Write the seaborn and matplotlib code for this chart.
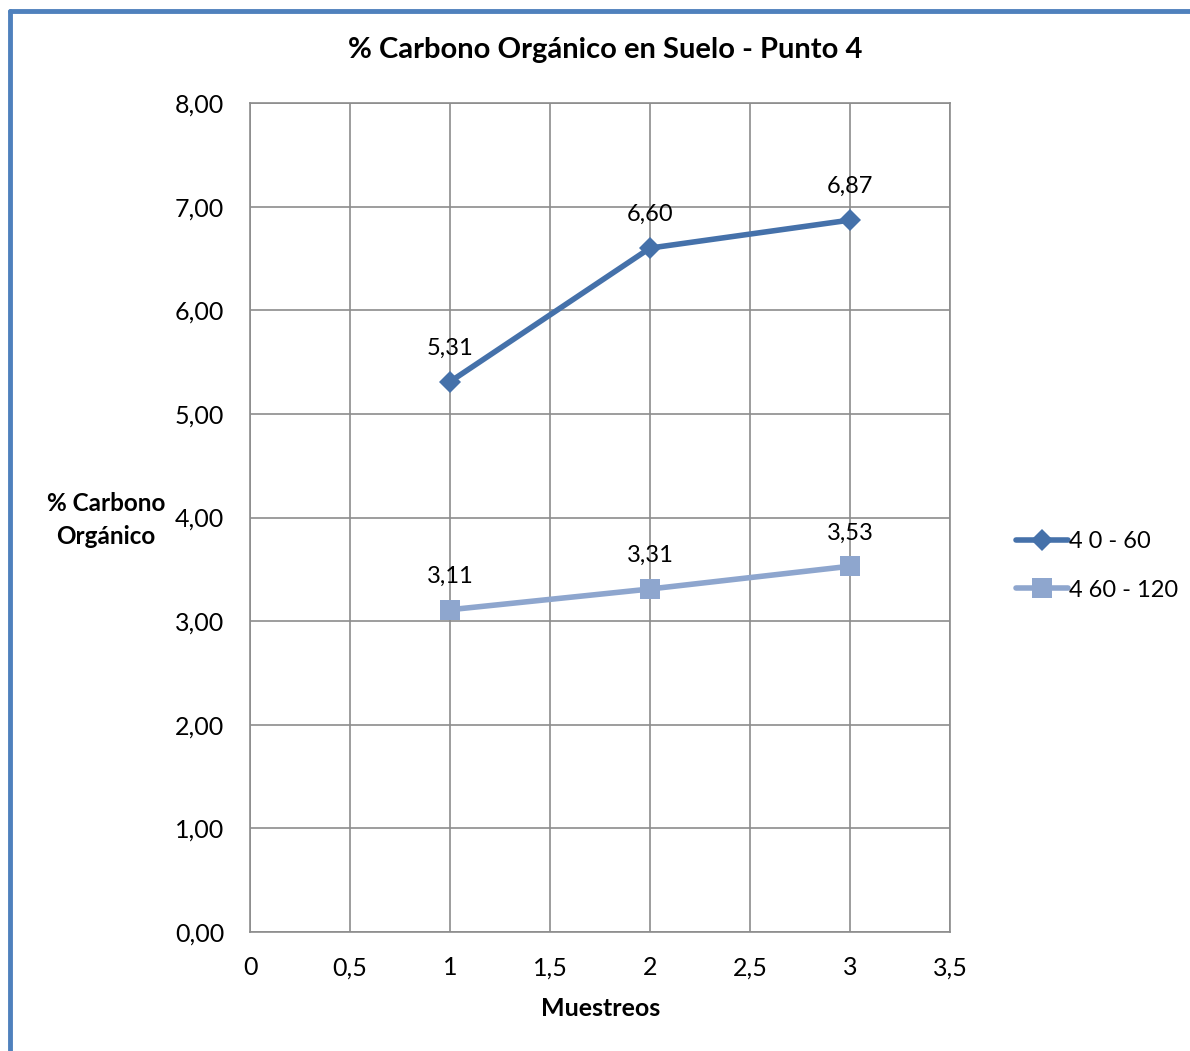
import matplotlib
matplotlib.use("Agg")
import matplotlib.pyplot as plt
import seaborn as sns
import pandas as pd
from matplotlib.lines import Line2D

muestreos = [1, 2, 3]
serie_0_60 = [5.31, 6.60, 6.87]
serie_60_120 = [3.11, 3.31, 3.53]
series_names = ["4 0 - 60", "4 60 - 120"]
title = "% Carbono Orgánico en Suelo - Punto 4"
xlabel = "Muestreos"
ylabel = "% Carbono\nOrgánico"

sns.set_theme(style="white")
plt.rcParams['font.family'] = ['Lato', 'DejaVu Sans']

df = pd.DataFrame({
    "x": muestreos * 2,
    "y": serie_0_60 + serie_60_120,
    "serie": [series_names[0]] * 3 + [series_names[1]] * 3,
})

c1 = "#4571AA"
c2 = "#8EA6CE"

fig = plt.figure(figsize=(11.9, 10.51), dpi=100)
ax = fig.add_axes([250/1190, 1 - 932/1051, 700/1190, (932-103)/1051])

sns.lineplot(data=df[df.serie == series_names[0]], x="x", y="y", ax=ax, color=c1,
             linewidth=4, marker="D", markersize=11, markeredgewidth=0, legend=False)
sns.lineplot(data=df[df.serie == series_names[1]], x="x", y="y", ax=ax, color=c2,
             linewidth=4, marker="s", markersize=15, markeredgewidth=0, legend=False)

for xs, ys in [(muestreos, serie_0_60), (muestreos, serie_60_120)]:
    for xv, yv in zip(xs, ys):
        ax.annotate(f"{yv:.2f}".replace(".", ","), (xv, yv), xytext=(0, 24),
                    textcoords="offset points", ha="center", va="center", fontsize=17,
                    color="black")

ax.set_xlim(0, 3.5)
ax.set_ylim(0, 8)
xt = [0, 0.5, 1, 1.5, 2, 2.5, 3, 3.5]
yt = [0, 1, 2, 3, 4, 5, 6, 7, 8]
ax.set_xticks(xt)
ax.set_yticks(yt)
ax.set_xticklabels([("%g" % v).replace(".", ",") for v in xt], fontsize=18)
ax.set_yticklabels([f"{v:.2f}".replace(".", ",") for v in yt], fontsize=18)
ax.grid(True, color="#8C8C8C", linewidth=1.2)
ax.set_axisbelow(True)
for s in ax.spines.values():
    s.set_color("#8C8C8C")
    s.set_linewidth(1.2)
ax.tick_params(axis="both", direction="inout", length=9, width=1.2, color="#8C8C8C",
               labelcolor="black")
ax.tick_params(axis="x", pad=13)
ax.tick_params(axis="y", pad=14)
ax.set_xlabel("")
ax.set_ylabel("")

fig.text(605/1190, 1 - 50/1051, title, ha="center", va="center", fontsize=21,
         fontweight="bold", color="black")
fig.text(601/1190, 1 - 1008/1051, xlabel, ha="center", va="center", fontsize=18,
         fontweight="bold", color="black")
fig.text(106/1190, 1 - 520/1051, ylabel, ha="center", va="center", fontsize=17.5,
         fontweight="bold", linespacing=1.55, color="black")

handles = [
    Line2D([], [], color=c1, linewidth=4, marker="D", markersize=11, markeredgewidth=0),
    Line2D([], [], color=c2, linewidth=4, marker="s", markersize=15, markeredgewidth=0),
]
fig.legend(handles, series_names, loc="center left", bbox_to_anchor=(1004/1190, 1 - 566/1051),
           frameon=False, fontsize=17, handlelength=2.2, handletextpad=0.05, labelspacing=1.15,
           borderpad=0, labelcolor="black")

# Chart area border (top and left visible)
fig.add_artist(Line2D([10/1190, 10/1190], [0, 1 - 11/1051], transform=fig.transFigure,
                      color="#4F81BD", linewidth=3.5))
fig.add_artist(Line2D([10/1190, 1], [1 - 11/1051, 1 - 11/1051], transform=fig.transFigure,
                      color="#4F81BD", linewidth=3.5))

fig.savefig("out.png", dpi=100)
